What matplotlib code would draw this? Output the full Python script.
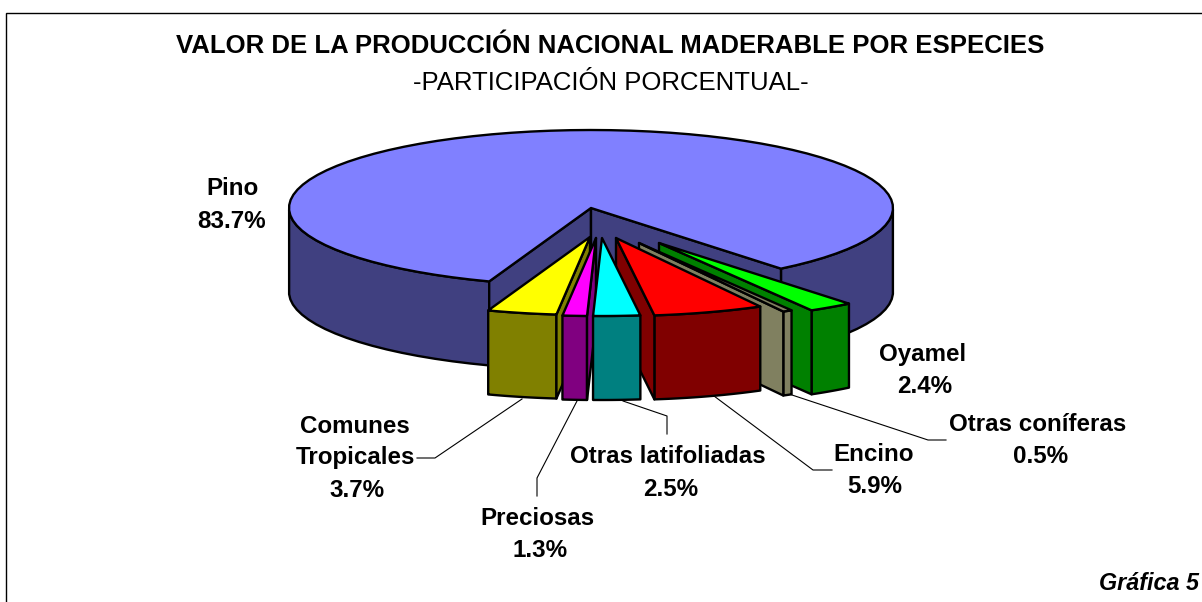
import numpy as np
import matplotlib
matplotlib.use("Agg")
import matplotlib.pyplot as plt
from matplotlib.patches import Polygon

plt.rcParams['font.family'] = ['Liberation Sans', 'DejaVu Sans']

# slices, clockwise starting from the big one
species = ["Pino", "Oyamel", "Otras coníferas", "Encino", "Otras latifoliadas", "Preciosas", "Comunes\nTropicales"]
shares = [83.7, 2.4, 0.5, 5.9, 2.5, 1.3, 3.7]
label_txt = ["83.7%", "2.4%", "0.5%", "5.9%", "2.5%", "1.3%", "3.7%"]

top_colors = ["#8080ff", "#00ff00", "#808060", "#ff0000", "#00ffff", "#ff00ff", "#ffff00"]
side_colors = ["#404080", "#008000", "#808060", "#800000", "#008080", "#800080", "#808000"]

FIRST_ANGLE = 199.7
A = 302
B = 78
DEPTH = 84
LW = 1.7
# where the tip of each wedge ends up after exploding
apex = [(591, 208), (659, 243), (639, 243), (616, 238), (602, 238), (596, 238), (590, 237)]
# back to front
draw_order = [1, 2, 3, 6, 5, 4]


def ell(cx, cy, ang):
    a = np.radians(ang)
    return np.column_stack([cx + A * np.sin(a), cy - B * np.cos(a)])


def draw_face(ax, pts, color, z):
    ax.add_patch(Polygon(pts, closed=True, facecolor=color, edgecolor="black",
                         linewidth=LW, joinstyle="round", zorder=z))


def draw_cut(ax, p0, p1, interior, color, z):
    # only the cut faces turned towards the viewer get drawn
    ex, ey = p1[0] - p0[0], p1[1] - p0[1]
    nx, ny = -ey, ex
    if nx * (interior[0] - p0[0]) + ny * (interior[1] - p0[1]) > 0:
        nx, ny = -nx, -ny
    if ny <= 0:
        return
    draw_face(ax, [p0, p1, (p1[0], p1[1] + DEPTH), (p0[0], p0[1] + DEPTH)], color, z)


def draw_slice(ax, i, start, end, z):
    cx, cy = apex[i]
    arc = ell(cx, cy, np.linspace(start, end, 80))
    mid = arc[len(arc) // 2]
    # outer wall: only the part of the rim on the front half
    mask = np.cos(np.radians(np.linspace(start, end, 80))) <= 0
    idx = np.where(mask)[0]
    if i == 0:
        # the big slice wraps round, its wall is in two pieces
        splits = np.split(idx, np.where(np.diff(idx) > 1)[0] + 1)
    else:
        splits = [idx]
    for part in splits:
        if len(part) < 2:
            continue
        rim = arc[part]
        low = rim[::-1] + [0, DEPTH]
        draw_face(ax, np.vstack([rim, low]), side_colors[i], z)
    if i == 0:
        # big slice: cut faces are seen from the inside of the gap
        draw_face(ax, [arc[0], (cx, cy), (cx, cy + DEPTH), arc[0] + [0, DEPTH]], side_colors[i], z)
        draw_face(ax, [arc[-1], (cx, cy), (cx, cy + DEPTH), arc[-1] + [0, DEPTH]], side_colors[i], z)
    else:
        draw_cut(ax, (cx, cy), tuple(arc[0]), mid, side_colors[i], z)
        draw_cut(ax, (cx, cy), tuple(arc[-1]), mid, side_colors[i], z)
    draw_face(ax, np.vstack([[(cx, cy)], arc]), top_colors[i], z + 0.5)


fig = plt.figure(figsize=(12.02, 6.02), dpi=100)
ax = fig.add_axes([0, 0, 1, 1])
ax.set_xlim(0, 1202)
ax.set_ylim(602, 0)
ax.axis("off")

# frame, open on the right and bottom
ax.plot([6, 6, 1202], [602, 12.5, 12.5], color="black", linewidth=1, solid_joinstyle="miter")

# angles run clockwise from the back of the pie
spans = np.array(shares) / sum(shares) * 360
starts = FIRST_ANGLE + np.concatenate([[0], np.cumsum(spans)[:-1]])
ends = starts + spans

draw_slice(ax, 0, starts[0], ends[0], 1)
for n, i in enumerate(draw_order):
    draw_slice(ax, i, starts[i], ends[i], 2 + n)

# leader lines
leaders = [
    ([522, 435, 417], [399, 458, 458]),
    ([577, 537, 537], [401, 478, 496]),
    ([623, 667, 667], [401, 416, 434]),
    ([714, 813, 832], [396, 470, 470]),
    ([792, 928, 946], [395, 440, 440]),
]
for xs, ys in leaders:
    ax.plot(xs, ys, color="black", linewidth=0.8, zorder=1)

TITLE_FS = 18.5
FS = 17.4
ax.text(610.5, 53, "VALOR DE LA PRODUCCIÓN NACIONAL MADERABLE POR ESPECIES",
        ha="center", va="baseline", fontsize=TITLE_FS, fontweight="bold")
ax.text(610.5, 90, "-PARTICIPACIÓN PORCENTUAL-", ha="center", va="baseline", fontsize=TITLE_FS)

# name x, name baseline, value x, value baseline
label_pos = [(232, 195, 232, 228), (923, 361, 925, 393), (1038, 431, 1041, 463), (874, 461, 875, 493),
             (668, 463, 671, 496), (537, 525, 540, 557), (355, 464, 357, 497)]
for i, (x1, y1, x2, y2) in enumerate(label_pos):
    if "\n" in species[i]:
        first, second = species[i].split("\n")
        ax.text(x1, y1 - 31, first, ha="center", va="baseline", fontsize=FS, fontweight="bold")
        ax.text(x1, y1, second, ha="center", va="baseline", fontsize=FS, fontweight="bold")
    else:
        ax.text(x1, y1, species[i], ha="center", va="baseline", fontsize=FS, fontweight="bold")
    ax.text(x2, y2, label_txt[i], ha="center", va="baseline", fontsize=FS, fontweight="bold")

ax.text(1199, 590, "Gráfica 5", ha="right", va="baseline", fontsize=16.8, fontweight="bold", style="italic")

fig.savefig("out.png", dpi=100)
